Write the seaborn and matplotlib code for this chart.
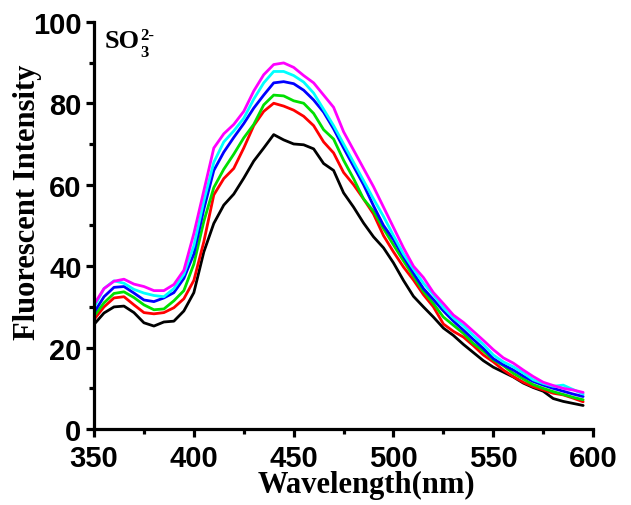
import numpy as np
import pandas as pd
import matplotlib
matplotlib.use("Agg")
import matplotlib.pyplot as plt
from matplotlib.ticker import MultipleLocator
import seaborn as sns

wavelength = [350, 355, 360, 365, 370, 375, 380, 385, 390, 395,
              400, 405, 410, 415, 420, 425, 430, 435, 440, 445,
              450, 455, 460, 465, 470, 475, 480, 485, 490, 495,
              500, 505, 510, 515, 520, 525, 530, 535, 540, 545,
              550, 555, 560, 565, 570, 575, 580, 585, 590, 595]

black = [25.7, 28.5, 30.0, 30.2, 28.6, 26.1, 25.3, 26.3, 26.5, 29.0,
         33.5, 43.5, 50.5, 55.0, 57.7, 61.6, 65.8, 69.0, 72.3, 71.0,
         70.0, 69.8, 68.8, 65.2, 63.5, 58.0, 54.5, 50.6, 47.2, 44.5,
         40.8, 36.5, 32.6, 30.0, 27.5, 24.8, 23.0, 20.8, 18.8, 16.8,
         15.2, 14.0, 12.8, 11.3, 10.2, 9.3, 7.5, 6.8, 6.3, 5.8]

red = [26.9, 30.0, 32.2, 32.5, 30.5, 28.6, 28.3, 28.6, 29.8, 32.0,
       36.5, 46.0, 57.5, 61.5, 64.0, 69.0, 74.5, 78.0, 80.0, 79.3,
       78.3, 76.8, 74.5, 70.5, 67.8, 63.0, 60.0, 56.5, 52.8, 47.5,
       43.5, 39.8, 36.6, 33.0, 30.0, 25.8, 24.0, 22.6, 20.5, 18.2,
       16.5, 14.5, 12.9, 11.5, 10.4, 9.6, 8.8, 8.4, 7.6, 6.7]

green = [27.7, 31.0, 33.3, 33.7, 32.3, 30.5, 29.3, 29.5, 31.5, 34.0,
         40.5, 51.0, 59.3, 63.8, 67.5, 71.5, 74.8, 79.6, 82.0, 81.8,
         80.6, 80.0, 77.5, 73.5, 71.2, 66.0, 61.5, 56.5, 53.5, 49.2,
         45.2, 41.3, 37.5, 33.8, 30.8, 27.5, 25.5, 23.5, 21.0, 19.2,
         17.0, 15.6, 13.7, 12.3, 10.9, 10.0, 9.2, 8.5, 7.8, 7.2]

blue = [28.6, 32.5, 34.8, 35.0, 33.4, 31.7, 31.3, 32.2, 33.5, 37.0,
        43.0, 54.0, 63.5, 68.0, 71.6, 75.0, 78.8, 82.0, 85.0, 85.3,
        84.8, 83.2, 80.8, 77.8, 73.7, 69.0, 64.5, 60.0, 54.8, 50.0,
        46.5, 42.3, 38.3, 34.5, 31.8, 29.0, 26.5, 24.3, 22.0, 19.8,
        17.3, 15.8, 14.5, 13.0, 11.7, 10.8, 10.0, 9.3, 8.6, 8.0]

cyan = [29.9, 34.5, 36.4, 35.8, 34.3, 33.4, 32.8, 32.5, 34.5, 38.0,
        45.0, 56.0, 65.5, 70.5, 73.2, 76.3, 81.0, 85.0, 87.8, 87.8,
        86.8, 85.2, 82.5, 78.5, 74.5, 70.0, 65.5, 61.0, 56.5, 52.2,
        47.5, 43.0, 39.3, 35.8, 33.0, 29.8, 27.3, 25.4, 23.0, 20.8,
        18.2, 16.5, 15.3, 13.8, 12.1, 11.2, 10.5, 10.8, 9.7, 8.6]

magenta = [30.6, 34.5, 36.3, 36.8, 35.6, 35.0, 34.0, 34.0, 35.5, 39.0,
           48.0, 58.5, 69.0, 72.5, 74.8, 78.0, 83.0, 87.0, 89.5, 89.9,
           88.8, 86.8, 85.0, 82.0, 79.0, 73.0, 68.5, 64.0, 59.5, 54.5,
           49.5, 44.5, 40.0, 37.2, 33.5, 30.8, 28.0, 26.2, 24.0, 21.8,
           19.5, 17.5, 16.2, 14.5, 12.9, 11.5, 10.7, 10.0, 9.6, 9.0]

series_names = ["black", "red", "green", "blue", "cyan", "magenta"]
series_values = [black, red, green, blue, cyan, magenta]
colors = ["#000000", "#ff0000", "#00e000", "#0000ff", "#00ffff", "#ff00ff"]

x_ticks = [350, 400, 450, 500, 550, 600]
y_ticks = [0, 20, 40, 60, 80, 100]

rows = []
for name, vals in zip(series_names, series_values):
    for w, v in zip(wavelength, vals):
        rows.append({"wl": w, "I": v, "series": name})
df = pd.DataFrame(rows)

sns.set_style("ticks")
plt.rcParams["text.color"] = "black"
plt.rcParams["axes.labelcolor"] = "black"

fig = plt.figure(figsize=(6.31, 5.06), dpi=100)
ax = fig.add_axes([0.149, 0.150, 0.791, 0.805])

sns.lineplot(data=df, x="wl", y="I", hue="series", palette=colors,
             hue_order=series_names, linewidth=2.0, legend=False, ax=ax)

ax.set_xlim(350, 600)
ax.set_ylim(0, 100)
ax.set_xticks(x_ticks)
ax.set_yticks(y_ticks)
ax.xaxis.set_minor_locator(MultipleLocator(25))
ax.yaxis.set_minor_locator(MultipleLocator(10))

sns.despine(ax=ax)
for s in ["left", "bottom"]:
    ax.spines[s].set_linewidth(2.3)
    ax.spines[s].set_color("black")

ax.tick_params(which="major", direction="out", length=6, width=2.3,
               color="black", pad=3)
ax.tick_params(which="minor", direction="out", length=3.5, width=2.3,
               color="black")
ax.tick_params(axis="x", which="major", pad=4.5)

for lab in ax.get_xticklabels() + ax.get_yticklabels():
    lab.set_fontfamily("Liberation Sans")
    lab.set_fontweight("bold")
    lab.set_fontsize(21)
    lab.set_color("black")

ax.set_xlabel("Wavelength(nm)", fontfamily="Liberation Serif",
              fontweight="bold", fontsize=22, color="black")
ax.set_ylabel("Fluorescent Intensity", fontfamily="Liberation Serif",
              fontweight="bold", fontsize=22, color="black")
ax.xaxis.set_label_coords(0.545, -0.101)
ax.yaxis.set_label_coords(-0.104, 0.56)

# SO3^2- annotation built from three text pieces
tkw = dict(fontfamily="Liberation Serif", fontweight="bold", color="black",
           transform=ax.transAxes, va="baseline", ha="left")
ax.text(0.022, 0.938, "SO", fontsize=19, **tkw)
ax.text(0.092, 0.916, "3", fontsize=12, **tkw)
ax.text(0.092, 0.958, "2-", fontsize=12, **tkw)

fig.savefig("out.png", dpi=100)
